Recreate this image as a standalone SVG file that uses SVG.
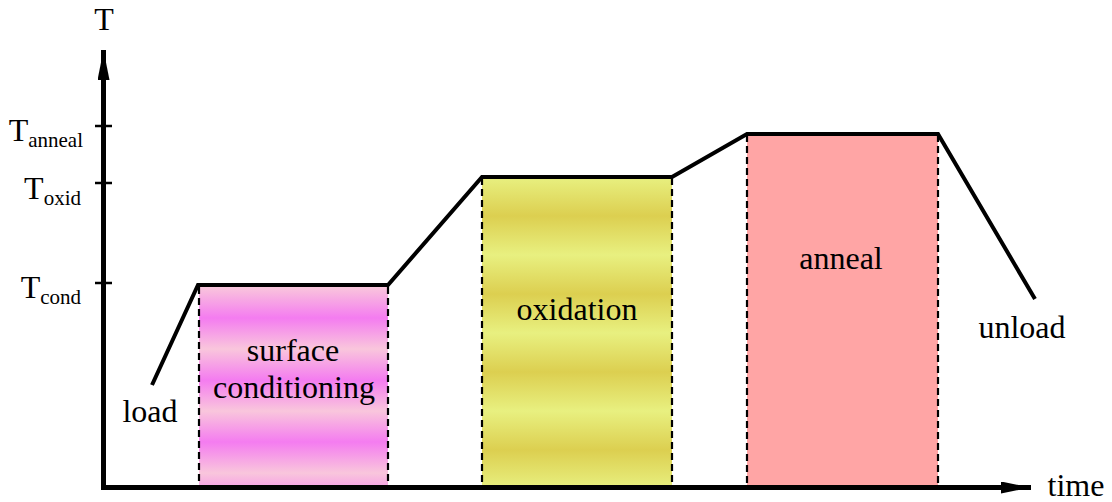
<svg xmlns="http://www.w3.org/2000/svg" width="1112" height="502" viewBox="0 0 1112 502">
  <style>
    .lbl { font-family: "Liberation Serif", "Times New Roman", serif; font-size: 32px; fill: #000; }
    .sub { font-size: 21px; }
    .axis { stroke: #000; stroke-width: 5; fill: none; }
    .tick { stroke: #000; stroke-width: 2.5; }
    .profile { stroke: #000; stroke-width: 4; fill: none; stroke-linejoin: miter; }
    .dash { stroke: #000; stroke-width: 2.2; stroke-dasharray: 7 4; }
  </style>
  <defs>
    <linearGradient id="pinkBands" gradientUnits="userSpaceOnUse" x1="0" y1="287" x2="0" y2="318" spreadMethod="reflect">
      <stop offset="0" stop-color="#f9c6dc"/>
      <stop offset="1" stop-color="#f47cf0"/>
    </linearGradient>
    <linearGradient id="yellowBands" gradientUnits="userSpaceOnUse" x1="0" y1="177" x2="0" y2="216" spreadMethod="reflect">
      <stop offset="0" stop-color="#e8f080"/>
      <stop offset="1" stop-color="#dccf50"/>
    </linearGradient>
    <marker id="arrow" viewBox="0 0 10 10" refX="10" refY="5" markerWidth="6" markerHeight="2.4" orient="auto" markerUnits="strokeWidth" preserveAspectRatio="none">
      <path d="M0,0 L10,5 L0,10 z" fill="#000"/>
    </marker>
  </defs>

  <!-- process phases -->
  <g id="surface-conditioning">
    <rect x="199" y="287" width="189" height="200" fill="url(#pinkBands)"/>
    <line class="dash" x1="199" y1="287" x2="199" y2="487"/>
    <line class="dash" x1="388" y1="287" x2="388" y2="487"/>
    <text class="lbl" x="293" y="361" text-anchor="middle">surface</text>
    <text class="lbl" x="294" y="398" text-anchor="middle">conditioning</text>
  </g>
  <g id="oxidation">
    <rect x="482" y="178" width="190" height="309" fill="url(#yellowBands)"/>
    <line class="dash" x1="482" y1="178" x2="482" y2="487"/>
    <line class="dash" x1="672" y1="178" x2="672" y2="487"/>
    <text class="lbl" x="577" y="320" text-anchor="middle">oxidation</text>
  </g>
  <g id="anneal">
    <rect x="747" y="135" width="191" height="352" fill="#ffa5a5"/>
    <line class="dash" x1="747" y1="135" x2="747" y2="487"/>
    <line class="dash" x1="938" y1="135" x2="938" y2="487"/>
    <text class="lbl" x="841" y="269" text-anchor="middle">anneal</text>
  </g>
  <g id="load">
    <text class="lbl" x="150" y="422" text-anchor="middle">load</text>
  </g>
  <g id="unload">
    <text class="lbl" x="1022" y="338" text-anchor="middle">unload</text>
  </g>

  <!-- temperature profile -->
  <g id="connectors">
    <polyline class="profile" points="152,385 198,285 388,285 482,177 672,177 747,134 938,134 1035,299"/>
  </g>

  <!-- axes -->
  <g id="axes">
    <line class="axis" x1="103.5" y1="489" x2="103.5" y2="50" marker-end="url(#arrow)"/>
    <line class="axis" x1="101" y1="487.5" x2="1031" y2="487.5" marker-end="url(#arrow)"/>
    <line class="tick" x1="95" y1="126" x2="112" y2="126"/>
    <line class="tick" x1="95" y1="183" x2="112" y2="183"/>
    <line class="tick" x1="95" y1="283" x2="112" y2="283"/>
    <text class="lbl" x="104" y="30" text-anchor="middle">T</text>
    <text class="lbl" x="1076" y="496" text-anchor="middle">time</text>
  </g>
  <g id="tick-labels">
    <text class="lbl" x="83" y="141" text-anchor="end">T<tspan class="sub" dy="6">anneal</tspan></text>
    <text class="lbl" x="81" y="199" text-anchor="end">T<tspan class="sub" dy="6">oxid</tspan></text>
    <text class="lbl" x="81" y="298" text-anchor="end">T<tspan class="sub" dy="6">cond</tspan></text>
  </g>
</svg>
